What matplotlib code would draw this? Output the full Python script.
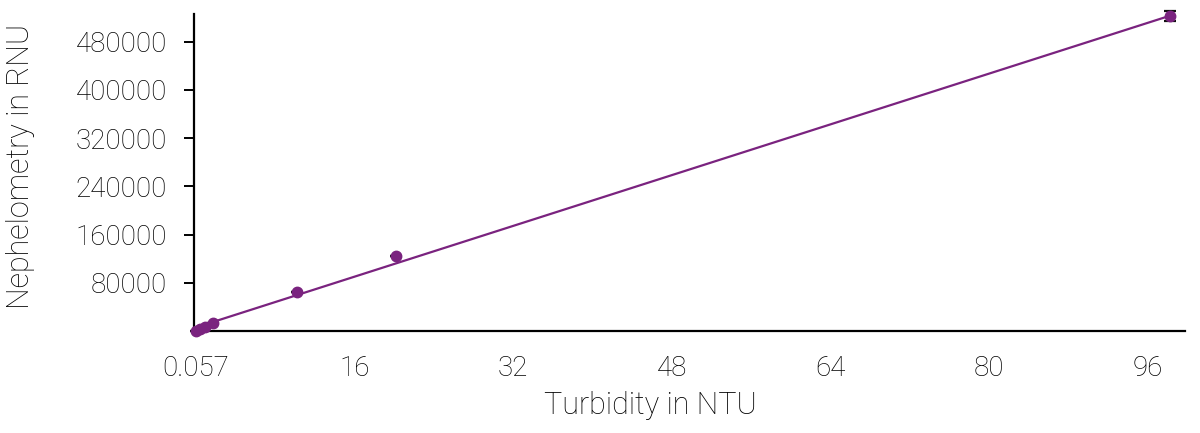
import numpy as np
import matplotlib
matplotlib.use("Agg")
import matplotlib.pyplot as plt

# --- datos ---
turbidez = [0.057, 0.46, 0.97, 1.77, 10.2, 20.2, 98.2]          # NTU
nefelometria = [300, 3000, 7000, 12600, 65000, 124000, 523000]  # RNU
err_x = [0.4, 0.4, 0.4, 0.4, 0.6, 0.6, 0.0]
err_y = [0, 0, 0, 0, 0, 0, 8500]

# recta de ajuste
pendiente = 5265.0
ordenada = 5700.0

x_ticks = [0.057, 16, 32, 48, 64, 80, 96]
x_ticklabels = ["0.057", "16", "32", "48", "64", "80", "96"]
y_ticks = [80000, 160000, 240000, 320000, 400000, 480000]

color = "#7a237f"
negro = "#000000"

plt.rcParams['font.family'] = ['Roboto', 'DejaVu Sans']
plt.rcParams['font.weight'] = 'light'

fig = plt.figure(figsize=(12, 4.33), dpi=100)
ax = fig.add_axes([0.1617, 0.2356, 0.9875 - 0.1617, 0.9677 - 0.2356])

xs = np.array([turbidez[0], turbidez[-1]])
ax.plot(xs, pendiente * xs + ordenada, color=color, lw=1.6, zorder=2)

# barras horizontales (sin remate) y verticales (con remate)
ax.errorbar(turbidez, nefelometria, xerr=err_x, fmt='none',
            ecolor='#222222', elinewidth=1.6, capsize=0, zorder=3, clip_on=False)
ax.errorbar(turbidez, nefelometria, yerr=err_y, fmt='none',
            ecolor='#111111', elinewidth=1.2, capsize=4, capthick=1.6,
            zorder=3, clip_on=False)
ax.plot(turbidez, nefelometria, 'o', color=color, ms=7.5, zorder=4, clip_on=False)

ax.set_xlim(-0.15, 99.75)
ax.set_ylim(0, 525800)
ax.set_xticks(x_ticks)
ax.set_xticklabels(x_ticklabels)
ax.set_yticks(y_ticks)

for s in ['top', 'right']:
    ax.spines[s].set_visible(False)
for s in ['left', 'bottom']:
    ax.spines[s].set_linewidth(1.6)
    ax.spines[s].set_color(negro)

ax.tick_params(axis='y', length=7.5, width=1.4, pad=12, labelsize=20, colors=negro)
ax.tick_params(axis='x', length=0, pad=17, labelsize=20, colors=negro)

ax.set_xlabel('Turbidity in NTU', fontsize=22, fontweight='light', labelpad=7, color=negro)
ax.set_ylabel('Nephelometry in RNU', fontsize=22, fontweight='light', labelpad=29, color=negro)
ax.xaxis.label.set_x(0.461)
ax.yaxis.label.set_y(0.52)

plt.savefig("out.png", dpi=100)
